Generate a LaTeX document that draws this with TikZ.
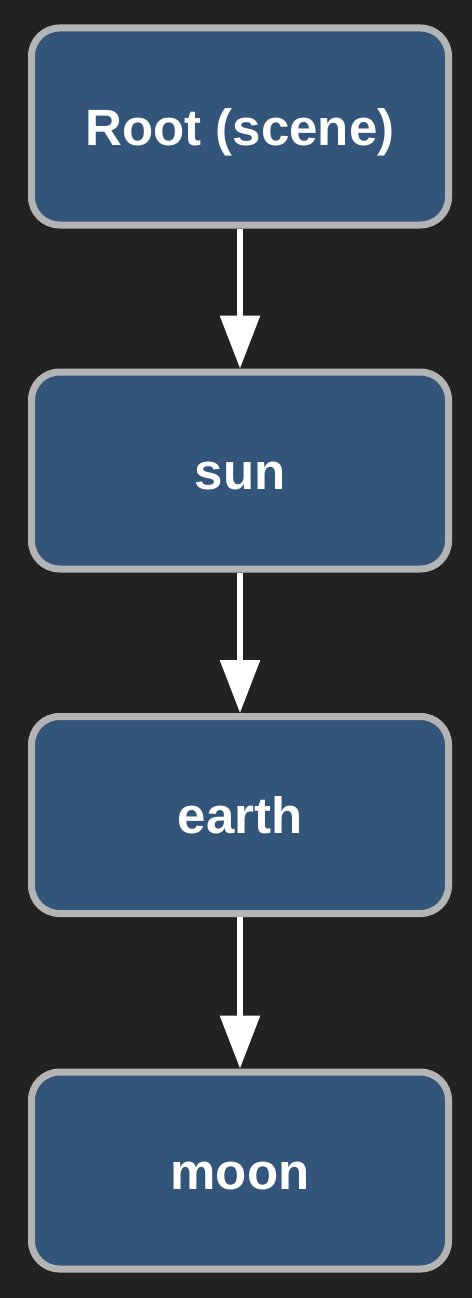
\documentclass[tikz,border=0pt]{standalone}
\usepackage{fontspec}
\setmainfont{Liberation Sans}
\usetikzlibrary{arrows.meta}
\definecolor{bgc}{HTML}{222222}
\definecolor{boxfill}{HTML}{34557A}
\definecolor{boxline}{HTML}{B4B4B4}
\tikzset{
  treebox/.style={draw=boxline, line width=7pt, fill=boxfill, rounded corners=28pt,
    minimum width=417pt, minimum height=197pt, inner sep=0pt,
    text=white, font=\fontsize{51}{60}\selectfont\bfseries,
    text height=37pt, text depth=0pt},
  arr/.style={draw=white, line width=6pt, -{Triangle[length=53pt,width=39pt]}}
}
\begin{document}
\begin{tikzpicture}[x=1pt,y=-1pt]
\fill[bgc] (0,0) rectangle (472,1298);
\useasboundingbox (0,0) rectangle (472,1298);
\node[treebox] (root) at (240,126.5) {Root (scene)};
\node[treebox] (sun) at (240,470.5) {sun};
\node[treebox] (earth) at (240,815) {earth};
\node[treebox] (moon) at (240,1170.5) {moon};
\draw[arr] (root) -- (sun);
\draw[arr] (sun) -- (earth);
\draw[arr] (earth) -- (moon);
\end{tikzpicture}
\end{document}
